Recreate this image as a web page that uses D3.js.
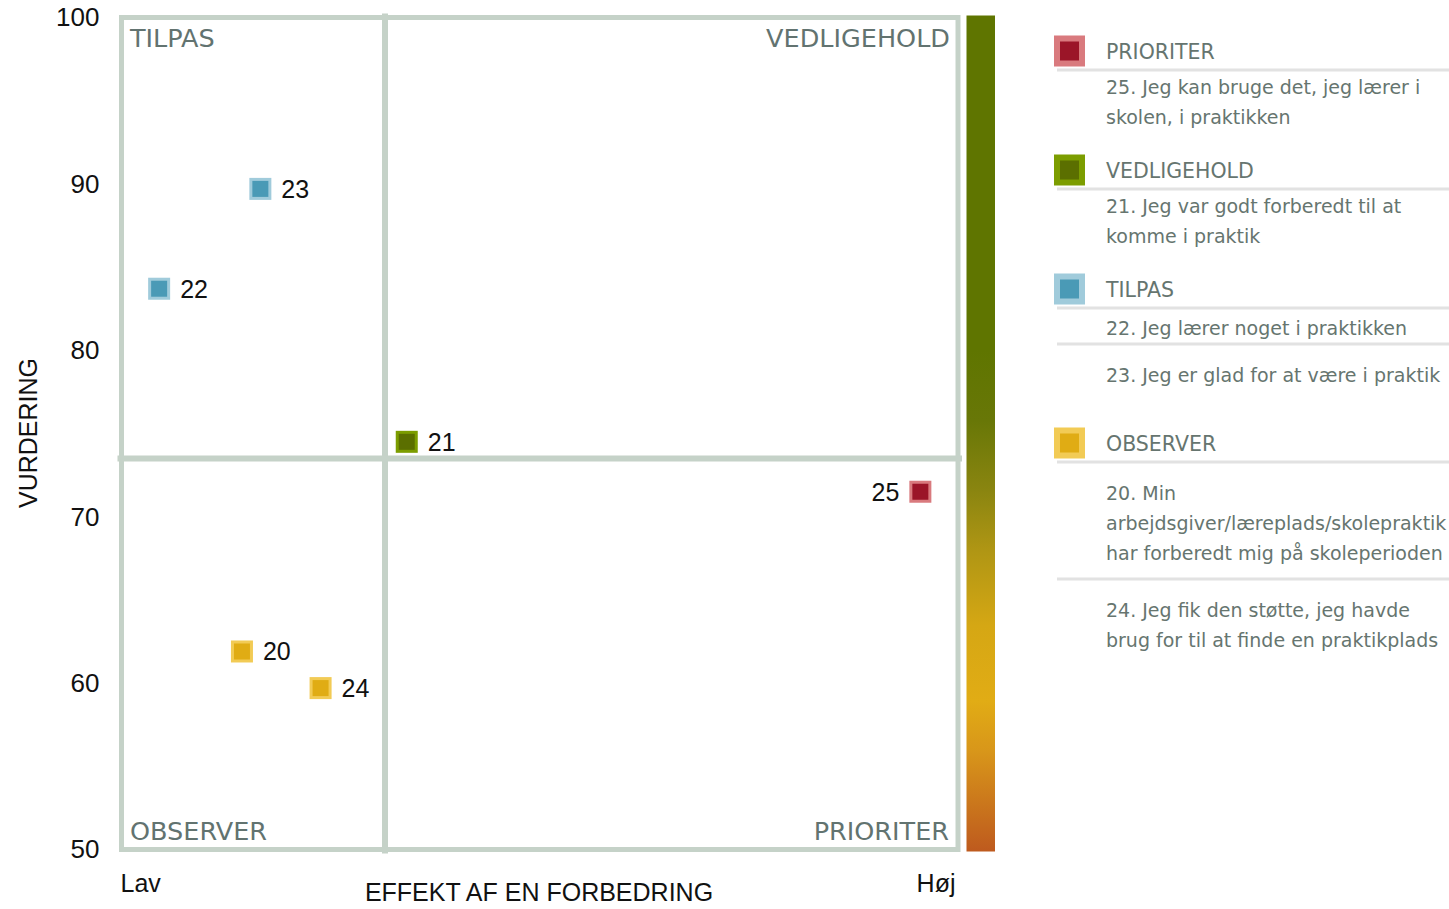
<!DOCTYPE html>
<html>
<head>
<meta charset="utf-8">
<script src="https://cdn.jsdelivr.net/npm/d3@7"></script>
<style>
  body { margin: 0; background: #fff; }
  svg { display: block; }
</style>
</head>
<body>
<div id="chart"></div>
<script>
var width = 1449, height = 909;

// data
var ids       = ["20", "21", "22", "23", "24", "25"];
var effekt    = [14.4, 34.1, 4.5, 16.6, 23.8, 95.5];
var vurdering = [61.9, 74.5, 83.7, 89.7, 59.7, 71.5];
var groupOf   = ["OBSERVER", "VEDLIGEHOLD", "TILPAS", "TILPAS", "OBSERVER", "PRIORITER"];
var yTicks    = [50, 60, 70, 80, 90, 100];
var xTickVals = [0, 100];
var xTickText = ["Lav", "Høj"];
var xSplit = 31.5, ySplit = 73.5;

var legendGroups = ["PRIORITER", "VEDLIGEHOLD", "TILPAS", "OBSERVER"];
var legendItems = [
  [["25. Jeg kan bruge det, jeg lærer i", "skolen, i praktikken"]],
  [["21. Jeg var godt forberedt til at", "komme i praktik"]],
  [["22. Jeg lærer noget i praktikken"], ["23. Jeg er glad for at være i praktik"]],
  [["20. Min", "arbejdsgiver/læreplads/skolepraktik", "har forberedt mig på skoleperioden"],
   ["24. Jeg fik den støtte, jeg havde", "brug for til at finde en praktikplads"]]
];

var colors = {
  PRIORITER:   { inner: "#9b1528", outer: "#d97a7e" },
  VEDLIGEHOLD: { inner: "#5b6f00", outer: "#7c9d00" },
  TILPAS:      { inner: "#4a9ab6", outer: "#a0cbdb" },
  OBSERVER:    { inner: "#e0ac14", outer: "#f2cb55" }
};

var x = d3.scaleLinear().domain([0, 100]).range([121.5, 958]);
var y = d3.scaleLinear().domain([50, 100]).range([849.5, 17.5]);

var svg = d3.select("#chart").append("svg")
  .attr("width", width).attr("height", height);

var frameColor = "#c5d2c8";
var quadColor = "#627370";

// gradient bar
var grad = svg.append("defs").append("linearGradient")
  .attr("id", "bar").attr("gradientUnits", "userSpaceOnUse")
  .attr("x1", 0).attr("x2", 0).attr("y1", y(80)).attr("y2", y(50) + 2);
[[0, "#5f7500"], [0.14, "#687707"], [0.28, "#8a8510"], [0.4, "#b09614"],
 [0.55, "#d5a714"], [0.7, "#e1ac15"], [0.8, "#d8961a"], [1, "#be5a1e"]]
  .forEach(function(s) {
    grad.append("stop").attr("offset", s[0]).attr("stop-color", s[1]);
  });
svg.append("rect")
  .attr("x", 966.5).attr("y", y(100) - 2)
  .attr("width", 28.5).attr("height", y(50) - y(100) + 4)
  .attr("fill", "url(#bar)");

// frame and dividers
svg.append("rect")
  .attr("x", x(0)).attr("y", y(100))
  .attr("width", x(100) - x(0)).attr("height", y(50) - y(100))
  .attr("fill", "none").attr("stroke", frameColor).attr("stroke-width", 5);
svg.append("line")
  .attr("x1", x(xSplit)).attr("x2", x(xSplit))
  .attr("y1", y(100) - 4).attr("y2", y(50) + 4)
  .attr("stroke", frameColor).attr("stroke-width", 6);
svg.append("line")
  .attr("x1", x(0) - 4).attr("x2", x(100) + 4)
  .attr("y1", y(ySplit)).attr("y2", y(ySplit))
  .attr("stroke", frameColor).attr("stroke-width", 6);

// quadrant labels
var quad = svg.append("g")
  .attr("font-family", "DejaVu Sans").attr("font-size", 25.5).attr("fill", quadColor);
quad.append("text").attr("x", 130).attr("y", 47).text("TILPAS");
quad.append("text").attr("x", 950).attr("y", 47).attr("text-anchor", "end").text("VEDLIGEHOLD");
quad.append("text").attr("x", 130).attr("y", 840).text("OBSERVER");
quad.append("text").attr("x", 949).attr("y", 840).attr("text-anchor", "end").text("PRIORITER");

// y axis
var yAxis = svg.append("g")
  .attr("transform", "translate(" + x(0) + ",0)")
  .call(d3.axisLeft(y).tickValues(yTicks).tickSize(0).tickPadding(22));
yAxis.select(".domain").remove();
yAxis.selectAll("text")
  .attr("font-family", "Liberation Sans").attr("font-size", 26).attr("fill", "#111");

// x axis (Lav / Høj)
var xAxis = svg.append("g")
  .attr("transform", "translate(0," + y(50) + ")")
  .call(d3.axisBottom(x).tickValues(xTickVals).tickSize(0)
    .tickFormat(function(d, i) { return xTickText[i]; }));
xAxis.select(".domain").remove();
xAxis.selectAll("text")
  .attr("font-family", "Liberation Sans").attr("font-size", 25).attr("fill", "#111")
  .attr("y", 42).attr("dy", 0)
  .attr("dx", function(d, i) { return i === 0 ? -1.5 : -3; })
  .attr("text-anchor", function(d, i) { return i === 0 ? "start" : "end"; });

// axis titles
svg.append("text")
  .attr("transform", "translate(37,433) rotate(-90)")
  .attr("text-anchor", "middle")
  .attr("font-family", "Liberation Sans").attr("font-size", 25).attr("fill", "#111")
  .text("VURDERING");
svg.append("text")
  .attr("x", 539).attr("y", 901)
  .attr("text-anchor", "middle")
  .attr("font-family", "Liberation Sans").attr("font-size", 25).attr("fill", "#111")
  .text("EFFEKT AF EN FORBEDRING");

// points
var pts = ids.map(function(id, i) {
  return { id: id, ex: effekt[i], vu: vurdering[i], g: groupOf[i] };
});
var pg = svg.selectAll(".pt").data(pts).enter().append("g")
  .attr("class", "pt")
  .attr("transform", function(d) { return "translate(" + x(d.ex) + "," + y(d.vu) + ")"; });
pg.append("rect")
  .attr("x", -11).attr("y", -11).attr("width", 22).attr("height", 22)
  .attr("fill", function(d) { return colors[d.g].outer; });
pg.append("rect")
  .attr("x", -8).attr("y", -8).attr("width", 16).attr("height", 16)
  .attr("fill", function(d) { return colors[d.g].inner; });
pg.append("text")
  .attr("x", function(d) { return d.ex > 80 ? -21 : 21; })
  .attr("y", 9)
  .attr("text-anchor", function(d) { return d.ex > 80 ? "end" : "start"; })
  .attr("font-family", "Liberation Sans").attr("font-size", 25).attr("fill", "#111")
  .text(function(d) { return d.id; });

// legend
var lg = svg.append("g").attr("font-family", "DejaVu Sans").attr("fill", "#66756f");
var itemPad = [[24], [24], [27, 38], [38, 38]];
var cy = 51;
legendGroups.forEach(function(name, gi) {
  lg.append("rect").attr("x", 1054).attr("y", cy - 15.5).attr("width", 31).attr("height", 31)
    .attr("fill", colors[name].outer);
  lg.append("rect").attr("x", 1060).attr("y", cy - 9.5).attr("width", 19).attr("height", 19)
    .attr("fill", colors[name].inner);
  lg.append("text").attr("x", 1106).attr("y", cy + 8).attr("font-size", 20.5).text(name);
  var top = cy + 19;
  lg.append("line").attr("x1", 1057).attr("x2", width).attr("y1", top).attr("y2", top)
    .attr("stroke", "#e2e2e2").attr("stroke-width", 3);
  var lastBase = top, lastTop = top;
  legendItems[gi].forEach(function(lines, ii) {
    if (ii > 0) {
      top = lastBase + (legendItems[gi][ii - 1].length > 1 ? 19 : 9);
      lg.append("line").attr("x1", 1057).attr("x2", width).attr("y1", top).attr("y2", top)
        .attr("stroke", "#e2e2e2").attr("stroke-width", 3);
    }
    lastTop = top;
    var b = top + itemPad[gi][ii];
    lines.forEach(function(t, li) {
      lg.append("text").attr("x", 1106).attr("y", b + li * 30)
        .attr("font-size", 19).text(t);
    });
    lastBase = b + (lines.length - 1) * 30;
  });
  cy = Math.max(lastBase + 46, lastTop + 99);
});
</script>
</body>
</html>
